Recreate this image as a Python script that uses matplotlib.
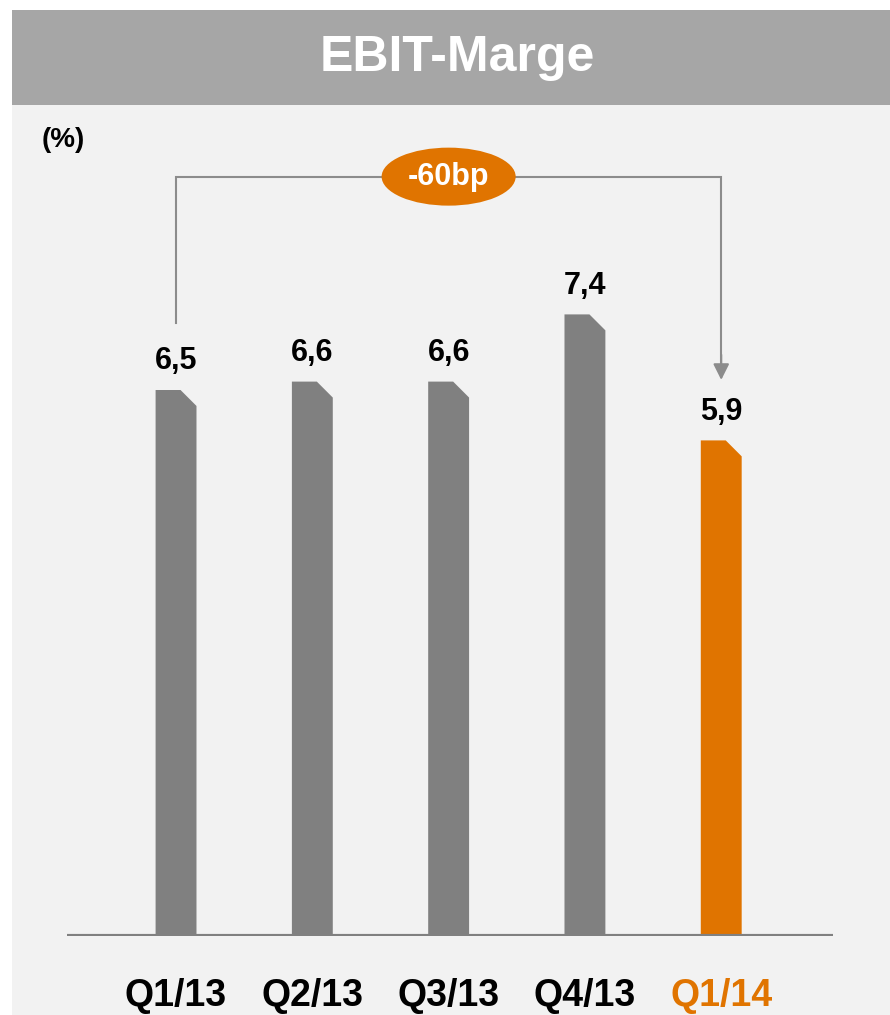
import matplotlib.pyplot as plt
from matplotlib.patches import Polygon, Rectangle, Ellipse

quarters = ['Q1/13', 'Q2/13', 'Q3/13', 'Q4/13', 'Q1/14']
margins = [6.5, 6.6, 6.6, 7.4, 5.9]
labels = ['6,5', '6,6', '6,6', '7,4', '5,9']
delta_label = '-60bp'

GREY = '#808080'
ORANGE = '#E07400'
BG = '#F2F2F2'
HEAD = '#A6A6A6'

narrow = ['Liberation Sans Narrow', 'Liberation Sans', 'DejaVu Sans']
plt.rcParams['font.family'] = ['Liberation Sans', 'DejaVu Sans']

W, H = 890, 1015
fig = plt.figure(figsize=(W / 100, H / 100), dpi=100)
fig.patch.set_facecolor('white')

# background panels
fig.add_artist(Rectangle((12 / W, 0), 1, 1 - 105 / H, transform=fig.transFigure,
                         facecolor=BG, edgecolor='none', zorder=0))
fig.add_artist(Rectangle((12 / W, 1 - 105 / H), 1, 95 / H, transform=fig.transFigure,
                         facecolor=HEAD, edgecolor='none', zorder=0))
fig.text(457 / W, 1 - 58 / H, 'EBIT-Marge', ha='center', va='center',
         color='white', fontsize=36, fontweight='bold', family=narrow)
fig.text(42 / W, 1 - 140 / H, '(%)', ha='left', va='center',
         color='black', fontsize=20, fontweight='bold')

# axes region: x 67..833 px, y 105..936 px
ax = fig.add_axes([67 / W, 1 - 936 / H, (833 - 67) / W, (936 - 105) / H])
ax.set_facecolor('none')
ppu_y = 84.0
ax.set_ylim(0, (936 - 105) / ppu_y)
ax.set_xlim(-0.8, 4.82)

bw = 0.30
cx = 0.117
cy = 0.19
colors = [GREY] * 4 + [ORANGE]
for i, (v, c) in enumerate(zip(margins, colors)):
    l, r = i - bw / 2, i + bw / 2
    poly = Polygon([(l, 0), (l, v), (r - cx, v), (r, v - cy), (r, 0)],
                   closed=True, facecolor=c, edgecolor='none', zorder=2)
    ax.add_patch(poly)
    ax.text(i, v + 0.34, labels[i], ha='center', va='center',
            fontsize=22, fontweight='bold', color='black')

# baseline
ax.axhline(0, color=GREY, lw=3, zorder=3)

# bracket with arrow
y_top = 9.04
y_start = margins[0] + 0.8
y_tip = margins[-1] + 0.72
ax.plot([0, 0, 4, 4], [y_start, y_top, y_top, y_tip + 0.05],
        color='#8C8C8C', lw=1.5, zorder=2, solid_joinstyle='miter')
ax.annotate('', xy=(4, y_tip), xytext=(4, y_tip + 0.3),
            arrowprops=dict(arrowstyle='-|>', color='#8C8C8C', lw=1.5,
                            mutation_scale=24, shrinkA=0, shrinkB=0))
ax.add_patch(Ellipse((2.0, y_top), 134 / 136.25, 58 / ppu_y,
                     facecolor=ORANGE, edgecolor='none', zorder=4))
ax.text(2.0, y_top, delta_label, ha='center', va='center', color='white',
        fontsize=22, fontweight='bold', zorder=5)

ax.set_xticks(range(len(quarters)))
ax.set_xticklabels(quarters, fontsize=27, fontweight='bold', family=narrow)
ax.get_xticklabels()[-1].set_color(ORANGE)
ax.tick_params(axis='x', length=0, pad=30)
ax.set_yticks([])
for s in ax.spines.values():
    s.set_visible(False)

fig.savefig('out.png', dpi=100)
